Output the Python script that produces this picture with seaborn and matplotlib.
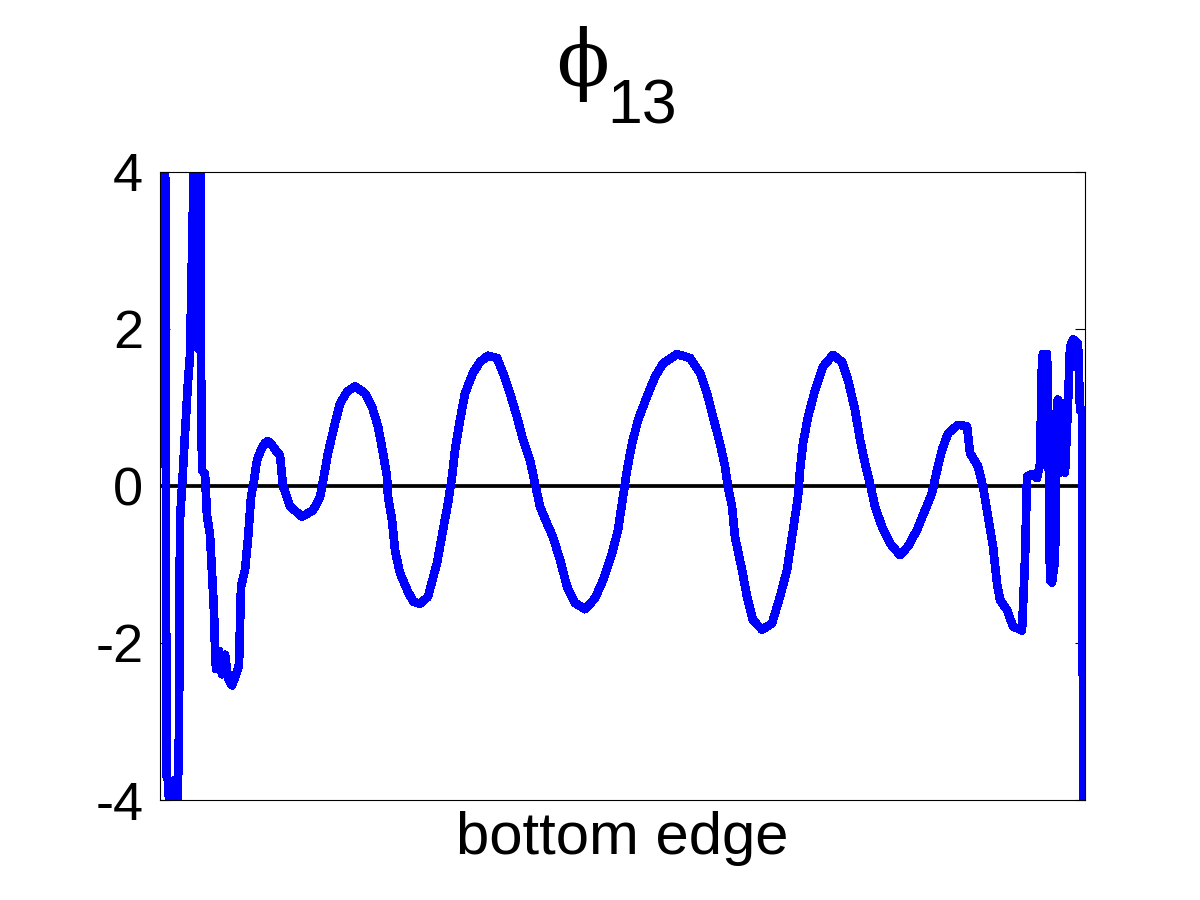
import matplotlib
matplotlib.use("Agg")
import matplotlib.pyplot as plt
import seaborn as sns

# position along the bottom edge (0..925) and phi_13 value
edge_pos = [5, 6.5, 8, 11, 14, 17, 19, 20, 23, 25, 27, 28, 30, 31, 32, 33, 34, 37, 38,
            39, 40, 41, 42, 45, 47, 50, 52, 54, 55, 56, 59, 62, 65, 68, 72, 76, 79, 81,
            85, 88, 91, 94, 97, 101, 105, 108, 112, 116, 120, 123, 130, 142, 153, 160,
            163, 168, 175, 180, 187, 195, 205, 212, 218, 223, 227, 228, 232, 235, 240,
            247, 253, 260, 268, 277, 283, 288, 292, 295, 300, 305, 313, 320, 328, 337,
            343, 350, 357, 363, 370, 375, 380, 387, 393, 400, 407, 415, 425, 435, 443,
            452, 458, 463, 467, 472, 478, 487, 495, 503, 517, 530, 540, 547, 553, 560,
            565, 568, 572, 575, 582, 587, 593, 602, 612, 620, 627, 633, 638, 640, 643,
            648, 655, 663, 673, 682, 688, 695, 700, 705, 710, 715, 722, 730, 740, 748,
            757, 765, 772, 777, 782, 788, 798, 807, 810, 818, 823, 828, 833, 837, 840,
            847, 853, 860, 862, 865, 867, 872, 877, 880, 882, 883, 887, 888, 890, 892,
            895, 897, 898, 900, 902, 905, 908, 910, 913, 918, 920, 922, 923, 924]
phi13 = [5.0, -3.7, -3.75, -4.5, -3.75, -4.5, -3.1, -0.43, 0.2, 0.67, 1.1, 1.33, 1.66,
         2.3, 3.0, 3.6, 4.6, 4.6, 1.75, 4.6, 4.6, 1.6, 0.2, 0.15, -0.38, -0.62, -1.12,
         -1.6, -2.07, -2.33, -2.1, -2.4, -2.15, -2.45, -2.54, -2.4, -2.28, -1.28, -1.07,
         -0.67, -0.14, 0.07, 0.33, 0.46, 0.55, 0.57, 0.52, 0.45, 0.39, 0.0, -0.26, -0.39,
         -0.31, -0.14, 0.06, 0.42, 0.80, 1.05, 1.2, 1.27, 1.18, 1.01, 0.76, 0.42, 0.12,
         -0.14, -0.43, -0.82, -1.11, -1.32, -1.47, -1.50, -1.41, -0.98, -0.56, -0.22,
         0.12, 0.46, 0.84, 1.18, 1.44, 1.58, 1.66, 1.63, 1.44, 1.18, 0.88, 0.59, 0.33,
         0.03, -0.26, -0.48, -0.65, -0.94, -1.28, -1.49, -1.57, -1.43, -1.20, -0.86,
         -0.56, -0.14, 0.20, 0.54, 0.84, 1.14, 1.39, 1.56, 1.68, 1.63, 1.44, 1.18, 0.88,
         0.54, 0.25, -0.01, -0.26, -0.65, -1.07, -1.41, -1.71, -1.83, -1.75, -1.41,
         -1.07, -0.56, -0.14, 0.20, 0.54, 0.88, 1.22, 1.52, 1.67, 1.58, 1.35, 0.97, 0.59,
         0.29, 0.03, -0.26, -0.52, -0.73, -0.88, -0.77, -0.56, -0.31, -0.09, 0.20, 0.46,
         0.67, 0.78, 0.76, 0.42, 0.25, -0.01, -0.39, -0.77, -1.24, -1.45, -1.58, -1.79,
         -1.83, -1.84, -0.94, 0.12, 0.15, 0.1, 0.28, 1.6, 1.68, 1.68, 1.18, -1.2, -1.23,
         -0.94, 1.07, 1.1, 0.17, 1.05, 0.17, 1.05, 1.76, 1.87, 1.81, 0.97, 0.97, -3.16,
         -4.5]
y_ticks = [-4, -2, 0, 2, 4]

sns.set_style("white")
plt.rcParams["font.family"] = ["Liberation Sans", "DejaVu Sans"]
plt.rcParams["text.color"] = "black"
plt.rcParams["axes.labelcolor"] = "black"
plt.rcParams["ytick.color"] = "black"

fig = plt.figure(figsize=(12, 9), dpi=100)
ax = fig.add_axes([160 / 1200, 100 / 900, 925 / 1200, 628 / 900])

ax.axhline(0, color="black", lw=2.7, zorder=1)
sns.lineplot(x=edge_pos, y=phi13, ax=ax, color="#0000ff", lw=5.5, sort=False,
             estimator=None, antialiased=False, zorder=2)

ax.set_xlim(0, 925)
ax.set_ylim(-4, 4)
ax.set_xticks([])
ax.set_yticks(y_ticks)
ax.set_yticklabels([str(t) for t in y_ticks])
ax.tick_params(axis="y", direction="in", length=7, width=0.8, right=True, left=True,
               labelsize=39, pad=12, colors="black")
for s in ax.spines.values():
    s.set_color("black")
    s.set_linewidth(0.8)

ax.set_xlabel("bottom edge", fontsize=43, labelpad=8, color="black")

fig.text(583 / 1200, 1 - 64 / 900, "\u03d5", family="DejaVu Serif", fontsize=56,
         ha="center", va="center", color="black")
fig.text(642 / 1200, 1 - 123 / 900, "13", fontsize=45, ha="center", va="baseline",
         color="black")

fig.savefig("out.png", dpi=100)
